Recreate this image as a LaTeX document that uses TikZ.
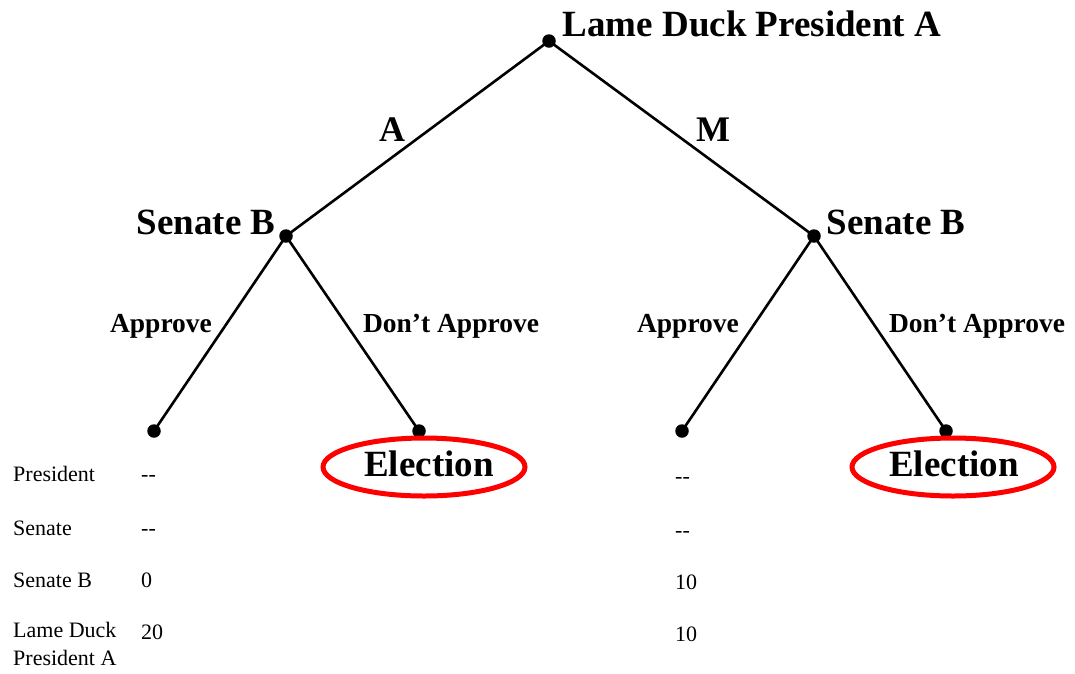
\documentclass[tikz,border=0pt]{standalone}
\usepackage{fontspec}
\setmainfont{Liberation Serif}
\usetikzlibrary{shapes.geometric}
\begin{document}
\begin{tikzpicture}[x=1pt,y=-1pt,
  dot/.style={circle,fill=black,inner sep=0pt,minimum size=13.5pt},
  edge/.style={line width=2.6pt,black},
  player/.style={font=\fontsize{37}{40}\selectfont\bfseries,inner sep=0pt},
  move/.style={font=\fontsize{27.5}{30}\selectfont\bfseries,inner sep=0pt},
  branch/.style={font=\fontsize{36}{40}\selectfont\bfseries,inner sep=0pt},
  elect/.style={draw=red,line width=5pt,ellipse,minimum width=202pt,minimum height=58pt,inner sep=0pt},
  tab/.style={font=\fontsize{22}{28}\selectfont,anchor=west,inner sep=0pt,align=left}]
\useasboundingbox (0,0) rectangle (1075,673);
\node[dot] (r) at (549,41) {};
\node[dot] (l) at (286,236) {};
\node[dot] (m) at (814,236) {};
\node[dot] (l1) at (154,431) {};
\node[dot] (l2) at (419,431) {};
\node[dot] (m1) at (682,431) {};
\node[dot] (m2) at (946,431) {};
\draw[edge] (r.center) -- (l.center);
\draw[edge] (r.center) -- (m.center);
\draw[edge] (l.center) -- (l1.center);
\draw[edge] (l.center) -- (l2.center);
\draw[edge] (m.center) -- (m1.center);
\draw[edge] (m.center) -- (m2.center);
\node[player] (tr) at (752,24) {Lame Duck President A};
\node[player] (tl) at (206,222) {Senate B};
\node[player] (tm) at (896,222) {Senate B};
\node[branch] (ba) at (392,130) {A};
\node[branch] (bm) at (713,130) {M};
\node[move] (la) at (161,326) {Approve};
\node[move] (ld) at (451,326) {Don’t Approve};
\node[move] (ma) at (688,326) {Approve};
\node[move] (md) at (977,326) {Don’t Approve};
\node[elect] (e1) at (424,467) {};
\node[elect] (e2) at (953,467) {};
\node[player] (et1) at (429,464) {Election};
\node[player] (et2) at (954,464) {Election};
\node[tab] (p1) at (13,474) {President};
\node[tab] (p2) at (13,528) {Senate};
\node[tab] (p3) at (13,580) {Senate B};
\node[tab,anchor=north west] (p4) at (13,622) {Lame Duck\\President A};
\node[tab] (v1) at (141,478) {-{}-};
\node[tab] (v2) at (141,532) {-{}-};
\node[tab] (v3) at (141,580) {0};
\node[tab] (v4) at (141,632) {20};
\node[tab] (w1) at (675,480) {-{}-};
\node[tab] (w2) at (675,534) {-{}-};
\node[tab] (w3) at (675,582) {10};
\node[tab] (w4) at (675,634) {10};
\end{tikzpicture}
\end{document}
